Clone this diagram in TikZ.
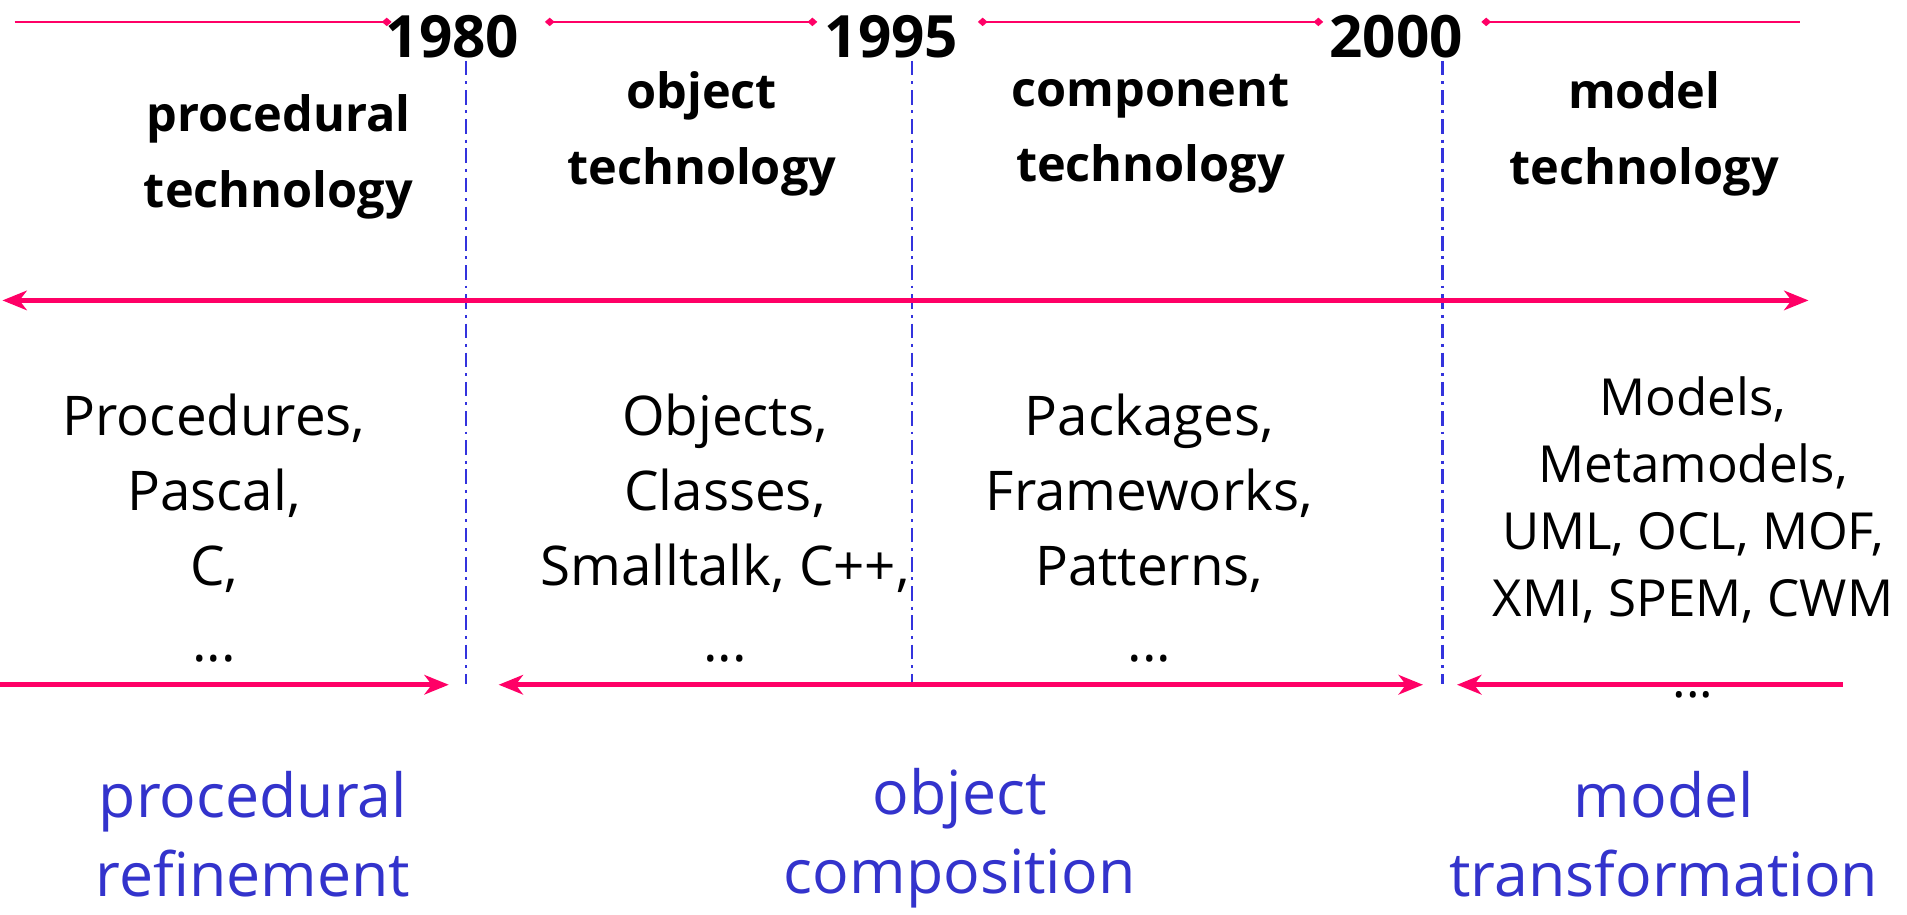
\documentclass[tikz,border=0pt]{standalone}
\usepackage{fontspec}
\setmainfont{Open Sans}
\usetikzlibrary{arrows.meta}
\definecolor{eraline}{HTML}{FF0066}
\definecolor{sepblue}{HTML}{3333DD}
\definecolor{themeblue}{HTML}{3333CC}
\begin{document}
\begin{tikzpicture}[x=0.5pt,y=-0.5pt,
  year/.style={font=\fontsize{24}{28}\selectfont\bfseries, inner sep=0pt},
  tech/.style={font=\fontsize{20}{31}\selectfont\bfseries, align=center, inner sep=0pt},
  items/.style={font=\fontsize{22.5}{31}\selectfont, align=center, inner sep=0pt},
  items model/.style={font=\fontsize{21}{27.5}\selectfont, align=center, inner sep=0pt},
  theme/.style={font=\fontsize{25}{32.5}\selectfont, text=themeblue, align=center, inner sep=0pt},
  span/.style={eraline, line width=1pt},
  spantip/.tip={Diamond[length=4pt, width=3.5pt]},
  era/.style={eraline, line width=1.9pt},
  eratip/.tip={Stealth[length=10pt, width=8pt, inset=3pt]},
  sep/.style={sepblue, line width=0.9pt, dash pattern=on 6pt off 2.4pt on 1.2pt off 2.4pt},
]
\useasboundingbox (0,0) rectangle (1568,752);

% year labels
\node[year] (y1980) at (372,30) {1980};
\node[year] (y1995) at (733,30) {1995};
\node[year] (y2000) at (1148,30) {2000};

% time spans along the top
\coordinate (s1a) at (12,18);   \coordinate (s1b) at (322,18);
\coordinate (s2a) at (448,18);  \coordinate (s2b) at (672,18);
\coordinate (s3a) at (804,18);  \coordinate (s3b) at (1088,18);
\coordinate (s4a) at (1218,18); \coordinate (s4b) at (1480,18);
\draw[span, -spantip] (s1a) -- (s1b);
\draw[span, spantip-spantip] (s2a) -- (s2b);
\draw[span, spantip-spantip] (s3a) -- (s3b);
\draw[span, spantip-] (s4a) -- (s4b);

% separators between the eras
\coordinate (d1t) at (383,50);  \coordinate (d1b) at (383,562);
\coordinate (d2t) at (750,50);  \coordinate (d2b) at (750,562);
\coordinate (d3t) at (1186,50); \coordinate (d3b) at (1186,562);
\draw[sep] (d1t) -- (d1b);
\draw[sep] (d2t) -- (d2b);
\draw[sep] (d3t) -- (d3b);

% technologies
\node[tech] (tproc) at (229,129) {procedural\\technology};
\node[tech] (tobj)  at (577,110) {object\\technology};
\node[tech] (tcomp) at (946,110) {component\\technology};
\node[tech] (tmod)  at (1352,110) {model\\technology};

% main time axis
\coordinate (axl) at (2,247);
\coordinate (axr) at (1487,247);
\draw[era, eratip-eratip] (axl) -- (axr);

% concepts of each era
\node[items] (iproc) at (176,434) {Procedures,\\Pascal,\\C,\\...};
\node[items] (iobj)  at (596,434) {Objects,\\Classes,\\Smalltalk, C++,\\...};
\node[items] (icomp) at (945,434) {Packages,\\Frameworks,\\Patterns,\\...};
\node[items model] (imod) at (1392,442) {Models,\\Metamodels,\\UML, OCL, MOF,\\XMI, SPEM, CWM\\[6pt]...};

% ranges of the paradigms
\coordinate (r1a) at (0,563);    \coordinate (r1b) at (369,563);
\coordinate (r2a) at (410,563);  \coordinate (r2b) at (1170,563);
\coordinate (r3a) at (1515,563); \coordinate (r3b) at (1198,563);
\draw[era, -eratip] (r1a) -- (r1b);
\draw[era, eratip-eratip] (r2a) -- (r2b);
\draw[era, -eratip] (r3a) -- (r3b);

% paradigms
\node[theme] (pproc) at (208,686) {procedural\\refinement};
\node[theme] (pobj)  at (789,689) {object\\composition};
\node[theme] (pmod)  at (1368,686) {model\\transformation};
\end{tikzpicture}
\end{document}
